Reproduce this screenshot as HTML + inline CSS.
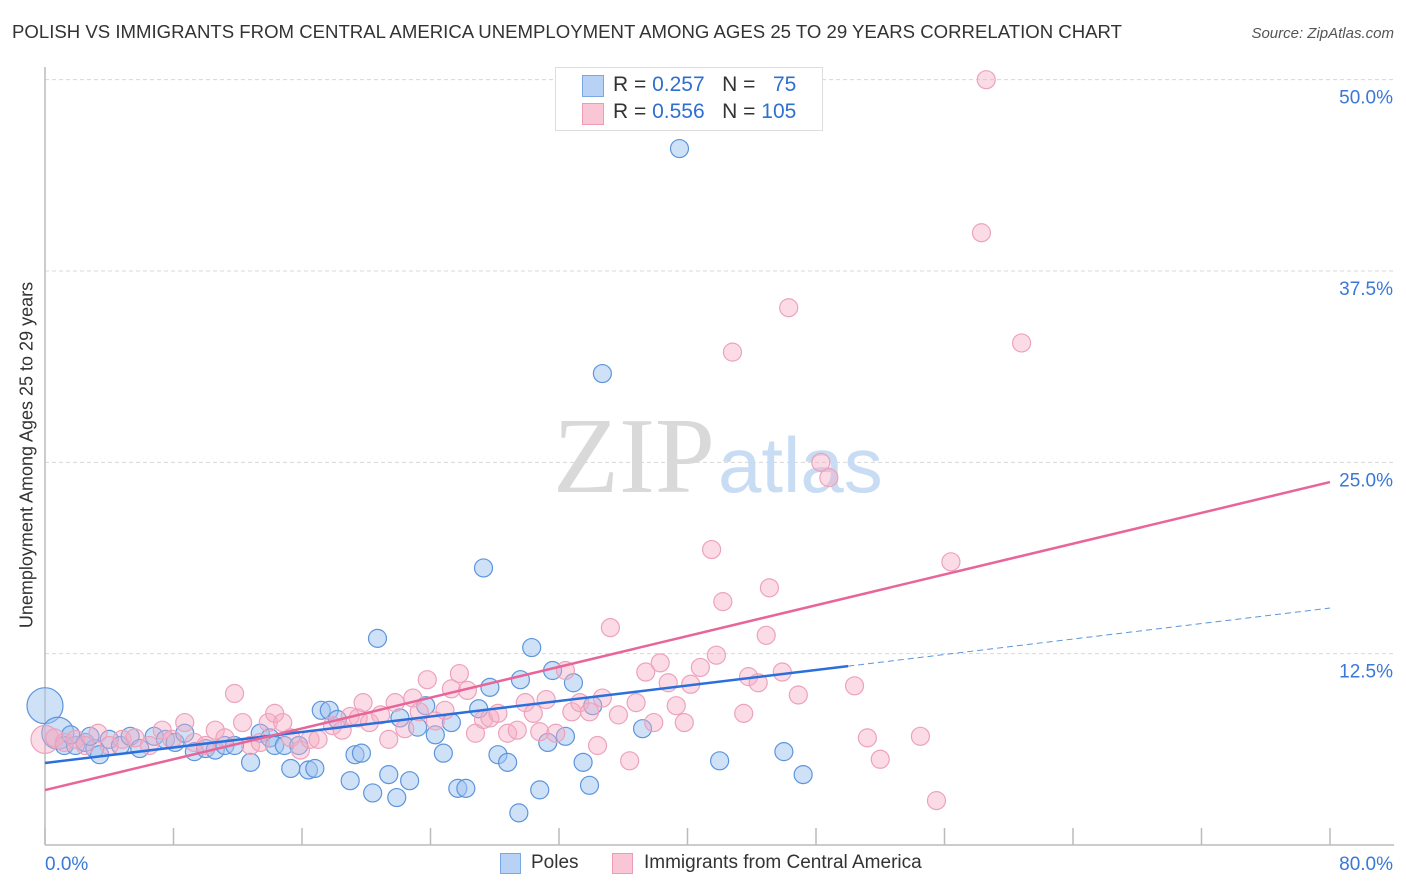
<!DOCTYPE html>
<html><head><meta charset="utf-8"><style>
body{margin:0;background:#fff;font-family:"Liberation Sans",sans-serif;}
#wrap{position:relative;width:1406px;height:892px;overflow:hidden;}
.t{position:absolute;white-space:nowrap;}
</style></head><body>
<div id="wrap">
<div class="t" style="left:12px;top:21px;font-size:18.6px;color:#333;">POLISH VS IMMIGRANTS FROM CENTRAL AMERICA UNEMPLOYMENT AMONG AGES 25 TO 29 YEARS CORRELATION CHART</div>
<div class="t" style="right:12px;top:25px;font-size:15px;color:#555;font-style:italic;">Source: ZipAtlas.com</div>
<div class="t" style="left:27px;top:455px;font-size:18px;color:#333;transform:translate(-50%,-50%) rotate(-90deg);">Unemployment Among Ages 25 to 29 years</div>
<svg id="plot" width="1406" height="892" style="position:absolute;left:0;top:0"></svg>
<div style="position:absolute;left:555px;top:67px;width:266px;height:62px;border:1px solid #ddd;background:#fff;font-size:21px;">
 <div style="position:absolute;left:26px;top:7px;width:20px;height:20px;background:#b7d2f4;border:1px solid #7aa8e6;"></div>
 <div class="t" style="left:57px;top:5px;color:#333;">R = <span style="color:#2f6fd0">0.257</span>&nbsp;&nbsp;&nbsp;N = &nbsp;&nbsp;<span style="color:#2f6fd0">75</span></div>
 <div style="position:absolute;left:26px;top:35px;width:20px;height:20px;background:#f9c6d6;border:1px solid #ee9ab6;"></div>
 <div class="t" style="left:57px;top:32px;color:#333;">R = <span style="color:#2f6fd0">0.556</span>&nbsp;&nbsp;&nbsp;N = <span style="color:#2f6fd0">105</span></div>
</div>
<div style="position:absolute;left:500px;top:853px;width:19px;height:19px;background:#b7d2f4;border:1px solid #7aa8e6;"></div>
<div class="t" style="left:531px;top:852px;font-size:19px;color:#333;">Poles</div>
<div style="position:absolute;left:612px;top:853px;width:19px;height:19px;background:#f9c6d6;border:1px solid #ee9ab6;"></div>
<div class="t" style="left:644px;top:852px;font-size:19px;color:#333;">Immigrants from Central America</div>
</div>
<script>
const blueX=[0.0,0.8,1.2,1.9,2.5,3.1,3.4,4.0,4.7,5.3,5.9,6.8,7.5,8.1,8.7,9.3,10.0,10.6,11.2,11.8,12.8,13.4,14.0,14.3,14.9,15.3,15.8,16.4,16.8,17.2,17.7,18.2,19.0,19.3,19.7,20.4,20.7,21.4,21.9,22.1,22.7,23.2,23.7,24.3,24.8,25.3,25.7,26.2,27.0,27.3,27.7,28.2,28.8,29.5,29.6,30.3,30.8,31.3,31.6,32.4,32.9,33.5,33.9,34.1,34.7,37.2,39.5,42.0,46.0,47.2,1.6,2.8];
const blueY=[9.1,7.3,6.5,6.5,6.7,6.3,5.9,6.9,6.5,7.1,6.3,7.1,6.9,6.7,7.3,6.1,6.3,6.2,6.5,6.5,5.4,7.3,7.0,6.5,6.5,5.0,6.5,4.9,5.0,8.8,8.8,8.2,4.2,5.9,6.0,3.4,13.5,4.6,3.1,8.3,4.2,7.7,9.1,7.2,6.0,8.0,3.7,3.7,8.9,18.1,10.3,5.9,5.4,2.1,10.8,12.9,3.6,6.7,11.4,7.1,10.6,5.4,3.9,9.1,30.8,7.6,45.5,5.5,6.1,4.6,7.2,7.1];
const pinkX=[0.0,0.6,1.2,1.9,2.5,3.3,4.0,4.8,5.6,6.5,7.3,7.9,8.7,9.3,10.0,10.6,11.2,11.8,12.3,12.8,13.4,13.9,14.3,14.8,15.3,15.9,16.5,17.0,17.9,18.5,19.0,19.5,19.8,20.2,20.9,21.4,21.8,22.4,22.9,23.3,23.8,24.3,24.9,25.3,25.8,26.3,26.8,27.3,27.7,28.2,28.8,29.4,29.9,30.4,30.8,31.2,31.8,32.4,32.8,33.3,33.9,34.4,34.7,35.2,35.7,36.4,36.8,37.4,37.9,38.3,38.8,39.3,39.8,40.2,40.8,41.5,41.8,42.2,42.8,43.5,43.8,44.4,44.9,45.1,45.9,46.3,46.9,48.3,48.8,50.4,51.2,52.0,54.5,55.5,56.4,58.3,58.6,60.8];
const pinkY=[6.9,7.0,6.7,6.9,6.5,7.3,6.5,6.9,7.0,6.5,7.5,6.9,8.0,6.7,6.5,7.5,7.0,9.9,8.0,6.5,6.7,8.0,8.6,8.0,7.0,6.2,6.9,6.9,7.8,7.5,8.4,8.3,9.3,8.0,8.5,6.9,9.3,7.6,9.6,8.7,10.8,8.1,8.8,10.2,11.2,10.1,7.3,8.2,8.3,8.6,7.3,7.5,9.3,8.6,7.4,9.5,7.3,11.4,8.7,9.3,8.7,6.5,9.6,14.2,8.5,5.5,9.3,11.3,8.0,11.9,10.6,9.1,8.0,10.5,11.6,19.3,12.4,15.9,32.2,8.6,11.0,10.6,13.7,16.8,11.3,35.1,9.8,25.0,24.0,10.4,7.0,5.6,7.1,2.9,18.5,40.0,50.0,32.8];
const blueTrend=[5.36,15.48];
const pinkTrend=[3.59,23.71];
const yTicks=[12.5,25.0,37.5,50.0];
const yTickLabels=["12.5%","25.0%","37.5%","50.0%"];
const xTicks=[0,8,16,24,32,40,48,56,64,72,80];
const xEndLabels=["0.0%","80.0%"];

const X=v=>45+v*(1285/80);
const Y=v=>845-v*(574/37.5);
const svg=document.getElementById('plot');
const NS='http://www.w3.org/2000/svg';
function mk(tag,a){const e=document.createElementNS(NS,tag);for(const k in a)e.setAttribute(k,a[k]);svg.appendChild(e);return e;}

yTicks.forEach((t,i)=>{
 const g=mk('line',{x1:45,x2:1394,y1:Y(t),y2:Y(t),stroke:'#d8d8d8','stroke-dasharray':'4,3'});
 
 
 const tx=mk('text',{x:1393,y:Y(t)+24,'text-anchor':'end','font-size':19,fill:'#3a78d8','font-family':'Liberation Sans, sans-serif'});
 tx.textContent=yTickLabels[i];
 
 
});
let a=mk('line',{x1:45,x2:45,y1:67,y2:845,stroke:'#bbb','stroke-width':1.5});


a=mk('line',{x1:45,x2:1394,y1:845,y2:845,stroke:'#bbb','stroke-width':1.5});


xTicks.forEach(t=>{
 const l=mk('line',{x1:X(t),x2:X(t),y1:828,y2:845,stroke:'#bbb','stroke-width':1.5});
 
 
});
let xl=mk('text',{x:45,y:870,'font-size':19,fill:'#3a78d8','font-family':'Liberation Sans, sans-serif'});
xl.textContent=xEndLabels[0];


xl=mk('text',{x:1393,y:870,'text-anchor':'end','font-size':19,fill:'#3a78d8','font-family':'Liberation Sans, sans-serif'});
xl.textContent=xEndLabels[1];



let w=mk('text',{x:553,y:492,'font-size':108,fill:'#d9d9d9','font-family':'Liberation Serif, serif'});
w.textContent='ZIP';


w=mk('text',{x:718,y:492,'font-size':78,fill:'#c8dcf3','font-family':'Liberation Sans, sans-serif'});
w.textContent='atlas';



blueX.forEach((x,i)=>{
 const r=i===0?18:(i===1?16:9);
 const c=mk('circle',{cx:X(x),cy:Y(blueY[i]),r:r,fill:'rgba(160,196,240,0.5)',stroke:'#5d95dd','stroke-width':1.2});
 
 
});
pinkX.forEach((x,i)=>{
 const r=i===0?14:9;
 const c=mk('circle',{cx:X(x),cy:Y(pinkY[i]),r:r,fill:'rgba(246,172,196,0.42)',stroke:'#eda2bb','stroke-width':1.2});
 
 
});
const bAt=x=>blueTrend[0]+(blueTrend[1]-blueTrend[0])*x/80;
const pAt=x=>pinkTrend[0]+(pinkTrend[1]-pinkTrend[0])*x/80;
let tl=mk('line',{x1:X(0),y1:Y(bAt(0)),x2:X(50),y2:Y(bAt(50)),stroke:'#2a6fdb','stroke-width':2.5});


tl=mk('line',{x1:X(50),y1:Y(bAt(50)),x2:X(80),y2:Y(bAt(80)),stroke:'#5d95dd','stroke-width':1,'stroke-dasharray':'6,4'});


tl=mk('line',{x1:X(0),y1:Y(pAt(0)),x2:X(80),y2:Y(pAt(80)),stroke:'#e8659a','stroke-width':2.5});


</script>
</body></html>
